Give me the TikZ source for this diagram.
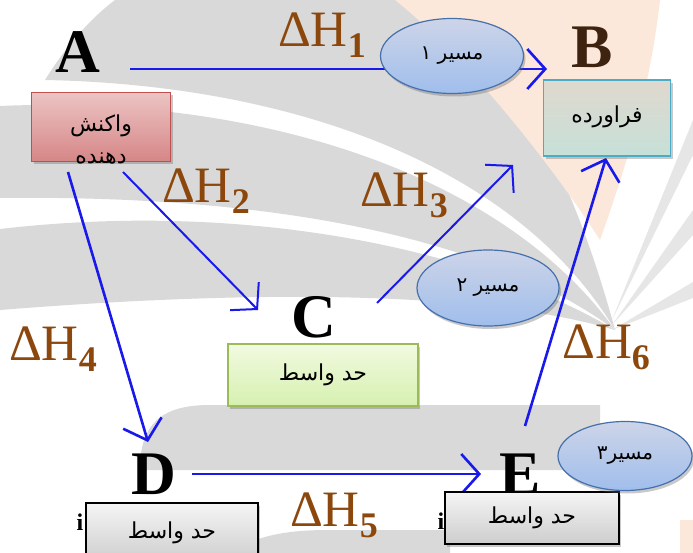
\documentclass[tikz,border=0pt]{standalone}
\usepackage{fontspec}
\setmainfont{Liberation Serif}
\newfontfamily\fa[Script=Arabic]{DejaVu Sans}
\TeXXeTstate=1
\usetikzlibrary{arrows.meta,shapes.geometric,shadows}
\definecolor{wm}{RGB}{217,217,217}
\definecolor{wmlight}{RGB}{230,230,230}
\definecolor{peach}{RGB}{252,232,219}
\definecolor{lineblue}{RGB}{25,25,235}
\definecolor{dhbrown}{RGB}{140,72,12}
\definecolor{bbrown}{RGB}{62,36,16}
\definecolor{redtop}{RGB}{236,196,196}
\definecolor{redbot}{RGB}{214,134,134}
\definecolor{redline}{RGB}{192,80,77}
\definecolor{cyantop}{RGB}{224,216,206}
\definecolor{cyanbot}{RGB}{198,224,216}
\definecolor{cyanline}{RGB}{75,172,198}
\definecolor{greentop}{RGB}{242,250,224}
\definecolor{greenbot}{RGB}{214,240,176}
\definecolor{greenline}{RGB}{155,187,89}
\definecolor{graytop}{RGB}{245,245,245}
\definecolor{graybot}{RGB}{205,205,205}
\definecolor{elltop}{RGB}{205,212,232}
\definecolor{ellbot}{RGB}{160,190,236}
\definecolor{ellline}{RGB}{70,112,172}
\newcommand{\dH}[1]{ΔH\raisebox{-11pt}{\fontsize{36}{36}\selectfont\bfseries #1}}
\tikzset{
  letter/.style={font=\fontsize{62}{62}\selectfont\bfseries, inner sep=0pt, anchor=base},
  dhlabel/.style={text=dhbrown, font=\fontsize{51}{51}\selectfont, inner sep=0pt, anchor=base west},
  arr/.style={draw=lineblue, line width=2.6pt, -{Straight Barb[length=18pt,width=40pt]}},
  thinarr/.style={arr, line width=2pt},
  shadowed/.style={drop shadow={shadow xshift=2pt, shadow yshift=-3pt, opacity=0.35, fill=black!60}},
  boxbase/.style={rectangle, shadowed, line width=1.2pt, inner sep=0pt, font=\fa\fontsize{22}{31}\selectfont, align=center},
  boxtext/.style={inner sep=0pt, font=\fa\fontsize{22}{32}\selectfont, align=center},
  redbox/.style={boxbase, draw=redline, top color=redtop, bottom color=redbot},
  cyanbox/.style={boxbase, draw=cyanline, top color=cyantop, bottom color=cyanbot},
  greenbox/.style={boxbase, draw=greenline, top color=greentop, bottom color=greenbot},
  graybox/.style={boxbase, draw=black, top color=graytop, bottom color=graybot},
  pathell/.style={ellipse, shadowed, draw=ellline, line width=1.2pt, top color=elltop, bottom color=ellbot, inner sep=0pt, font=\fa\fontsize{20}{20}\selectfont},
  artifact/.style={font=\fontsize{24}{24}\selectfont\bfseries, inner sep=0pt, anchor=base}
}
\begin{document}
\begin{tikzpicture}[x=1pt, y=-1pt]
\useasboundingbox (0,0) rectangle (693,553);
\fill[white] (0,0) rectangle (693,553);
% watermark
\fill[wm] (115,0) -- (430,0) .. controls (520,60) and (580,200) .. (615,330) .. controls (520,170) and (300,85) .. (45,80) .. controls (70,40) and (95,15) .. (115,0) -- cycle;
\fill[wm] (0,106) .. controls (250,95) and (500,170) .. (615,330) .. controls (480,230) and (250,195) .. (0,198) -- cycle;
\fill[wm] (0,229) .. controls (250,200) and (480,250) .. (615,330) .. controls (480,290) and (250,290) .. (0,310) -- cycle;
\fill[wm] (140,470) .. controls (140,425) and (160,405) .. (210,405) -- (600,405) -- (600,470) -- cycle;
\fill[wm] (230,553) .. controls (260,532) and (300,530) .. (330,530) -- (450,530) -- (450,553) -- cycle;
\fill[wmlight] (612,320) -- (693,120) -- (693,155) -- cycle;
\fill[wmlight] (612,325) -- (693,210) -- (693,235) -- cycle;
\fill[wmlight] (612,330) -- (693,282) -- (693,298) -- cycle;
\fill[peach] (395,0) -- (660,0) .. controls (650,90) and (625,170) .. (600,240) .. controls (555,170) and (470,60) .. (395,0) -- cycle;
\fill[peach] (680,520) rectangle (693,553);
% letters
\node[letter] (A) at (78,73) {A};
\node[letter, text=bbrown] (B) at (592,68) {B};
\node[letter] (C) at (314,337) {C};
\node[letter] (D) at (154,494) {D};
\node[letter] (E) at (520,494) {E};
\node[artifact] (i1) at (80,530) {i};
\node[artifact] (i2) at (441,529) {i};
% enthalpy labels
\node[dhlabel] (dh1) at (278,47) {\dH{1}};
\node[dhlabel] (dh2) at (162,203) {\dH{2}};
\node[dhlabel] (dh3) at (360,207) {\dH{3}};
\node[dhlabel] (dh4) at (9,360) {\dH{4}};
\node[dhlabel] (dh5) at (290,526) {\dH{5}};
\node[dhlabel] (dh6) at (562,358) {\dH{6}};
% arrow ends
\coordinate (s1) at (130,69);  \coordinate (e1) at (547,69);
\coordinate (s2) at (123,172); \coordinate (e2) at (258,310);
\coordinate (s3) at (377,303); \coordinate (e3) at (513,165);
\coordinate (s4) at (68,172);  \coordinate (e4) at (148,442);
\coordinate (s5) at (192,474); \coordinate (e5) at (481,474);
\coordinate (s6) at (525,426); \coordinate (e6) at (606,158);
\draw[arr] (s1) -- (e1);
\draw[thinarr] (s2) -- (e2);
\draw[thinarr] (s3) -- (e3);
\draw[arr] (s4) -- (e4);
\draw[arr] (s5) -- (e5);
\draw[arr] (s6) -- (e6);
% boxes
\node[redbox, minimum width=139pt, minimum height=69pt] (boxA) at (101,127) {};
\node[boxtext] (boxAtext) at (101,140) {\beginR واکنش\endR\\\beginR دهنده\endR};
\node[cyanbox, minimum width=127pt, minimum height=76pt] (boxB) at (607,118) {\raisebox{8pt}{\beginR فراورده\endR}};
\node[greenbox, minimum width=190pt, minimum height=62pt] (boxC) at (323,375) {\raisebox{5pt}{\beginR حد واسط\endR}};
\node[graybox, minimum width=172pt, minimum height=60pt] (boxD) at (172,533) {\raisebox{5pt}{\beginR حد واسط\endR}};
\node[graybox, minimum width=174pt, minimum height=52pt] (boxE) at (532,518) {\raisebox{2pt}{\beginR حد واسط\endR}};
% path ellipses
\node[pathell, minimum width=143pt, minimum height=75pt] (p1) at (452,56) {\raisebox{4pt}{\beginR مسیر ۱\endR}};
\node[pathell, minimum width=142pt, minimum height=76pt] (p2) at (488,288) {\raisebox{4pt}{\beginR مسیر ۲\endR}};
\node[pathell, minimum width=134pt, minimum height=69pt] (p3) at (625,456) {\raisebox{4pt}{\beginR مسیر۳\endR}};
\end{tikzpicture}
\end{document}
